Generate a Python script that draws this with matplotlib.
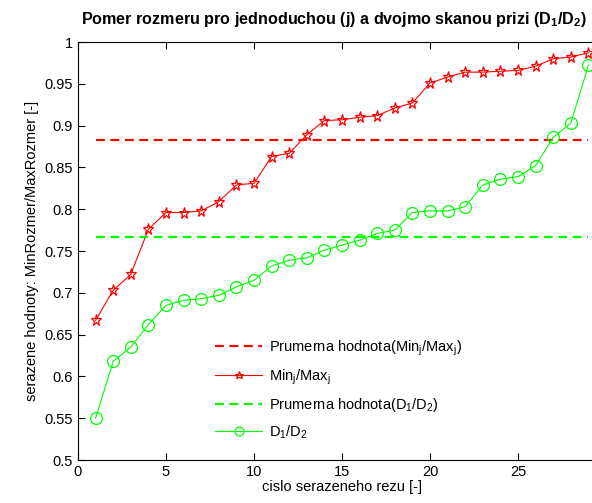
import matplotlib
matplotlib.use("Agg")
import matplotlib.pyplot as plt
from matplotlib.ticker import FuncFormatter, MultipleLocator

plt.rcParams['font.family'] = ['Liberation Sans', 'DejaVu Sans']
plt.rcParams['mathtext.fontset'] = 'custom'
plt.rcParams['mathtext.rm'] = 'Liberation Sans'
plt.rcParams['mathtext.bf'] = 'Liberation Sans:bold'

# -----------------------------
# Data
# -----------------------------
rez = list(range(1, 30))

minmax_j = [0.667, 0.703, 0.722, 0.776, 0.796, 0.796, 0.798, 0.809, 0.829, 0.831,
            0.863, 0.867, 0.889, 0.906, 0.907, 0.910, 0.912, 0.921, 0.927, 0.951,
            0.958, 0.964, 0.964, 0.965, 0.966, 0.971, 0.980, 0.982, 0.987]

d1_d2 = [0.550, 0.618, 0.635, 0.662, 0.685, 0.691, 0.693, 0.697, 0.707, 0.715,
         0.732, 0.739, 0.742, 0.751, 0.757, 0.763, 0.771, 0.775, 0.796, 0.798,
         0.798, 0.803, 0.829, 0.836, 0.839, 0.852, 0.886, 0.903, 0.972]

mean_j = 0.883
mean_d = 0.767

x_ticks = [0, 5, 10, 15, 20, 25]

RED = (1, 0, 0)
GREEN = (0, 1, 0)

# -----------------------------
# Figure
# -----------------------------
fig = plt.figure(figsize=(5.92, 5.03), dpi=100)
# axes run slightly past the right edge, as in the cropped original
ax = fig.add_axes([78 / 592, 1 - 460 / 503, (606 - 78) / 592, (460 - 42) / 503])

ax.plot([rez[0], rez[-1]], [mean_j, mean_j], '--', color=RED, lw=1.6,
        dashes=(4, 2.5), label=r'Prumerna hodnota(Min$_\mathregular{j}$/Max$_\mathregular{j}$)')
ax.plot(rez, minmax_j, '-', color=RED, lw=0.8, marker='*', ms=8.2,
        mfc='none', mec=RED, mew=0.9, label=r'Min$_\mathregular{j}$/Max$_\mathregular{j}$')
ax.plot([rez[0], rez[-1]], [mean_d, mean_d], '--', color=GREEN, lw=1.6,
        dashes=(4, 2.5), label=r'Prumerna hodnota(D$_\mathregular{1}$/D$_\mathregular{2}$)')
ax.plot(rez, d1_d2, '-', color=GREEN, lw=0.8, marker='o', ms=8.5,
        mfc='none', mec=GREEN, mew=0.9, label=r'D$_\mathregular{1}$/D$_\mathregular{2}$')

ax.set_xlim(0, 30)
ax.set_ylim(0.5, 1)
ax.set_xticks(x_ticks)
ax.yaxis.set_major_locator(MultipleLocator(0.05))
ax.yaxis.set_major_formatter(FuncFormatter(lambda v, p: f"{v:g}"))
ax.tick_params(direction='in', top=True, right=True, labelsize=10.5, length=5, width=0.8)
for s in ax.spines.values():
    s.set_linewidth(0.8)

ax.set_xlabel('cislo serazeneho rezu [-]', fontsize=10.5, labelpad=1)
ax.set_ylabel('serazene hodnoty: MinRozmer/MaxRozmer [-]', fontsize=10.5, labelpad=4)
ax.set_title(r'Pomer rozmeru pro jednoduchou (j) a dvojmo skanou prizi (D$_\mathbf{1}$/D$_\mathbf{2}$)',
             fontsize=11.6, fontweight='bold', pad=13, x=0.485)

ax.legend(loc='lower left', bbox_to_anchor=(0.235, 0.015), frameon=False, fontsize=10.5,
          handlelength=3.2, handletextpad=0.5, labelspacing=0.62, numpoints=1,
          markerscale=0.75)

fig.savefig('out.png', dpi=100)
